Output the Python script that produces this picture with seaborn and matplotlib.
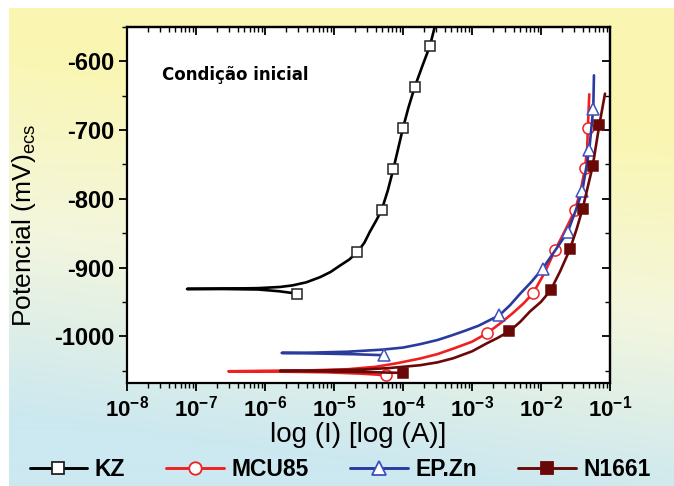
"""
Curvas de polarização – condição inicial
"""

import numpy as np
import matplotlib
matplotlib.use("Agg")
import matplotlib.pyplot as plt
from matplotlib.lines import Line2D
from matplotlib.ticker import LogLocator, MultipleLocator, NullFormatter
import seaborn as sns

# log10(I / A) and potential (mV vs ECS), traced from cathodic end -> Ecorr -> anodic branch
kz_log_i = [-5.54, -5.8, -6.1, -6.6, -7.13, -6.6, -6.1, -5.78, -5.6, -5.4,
            -5.2, -5.05, -4.91, -4.78, -4.66, -4.56, -4.48, -4.39, -4.31, -4.22,
            -4.14, -4.07, -4.00, -3.92, -3.83, -3.72, -3.61, -3.54]
kz_e = [-937.9, -934.5, -932.0, -931.3, -931.2, -930.8, -930.0, -928.3, -926.0, -921.5,
        -914.0, -906.5, -897.0, -888.5, -877.4, -864.0, -848.0, -832.0, -816.7, -788.0,
        -757.0, -727.0, -697.0, -667.0, -637.4, -607.0, -577.7, -550.0]
kz_marks = [0, 14, 18, 20, 22, 24, 26]

mcu_log_i = [-4.25, -4.6, -5.1, -5.8, -6.53, -6.0, -5.4, -4.8, -4.4, -4.1,
             -3.75, -3.5, -3.27, -3.0, -2.787, -2.6, -2.41, -2.25, -2.112, -1.95,
             -1.797, -1.65, -1.507, -1.42, -1.36, -1.33, -1.32, -1.30]
mcu_e = [-1056.7, -1054.5, -1052.5, -1051.5, -1051.0, -1050.3, -1049.8, -1048.0, -1044.5, -1039.5,
         -1032.4, -1026.0, -1018.0, -1008.0, -996.0, -982.0, -966.5, -952.0, -937.0, -908.0,
         -875.0, -846.0, -816.7, -786.0, -754.6, -725.0, -696.4, -648.0]
mcu_marks = [0, 14, 18, 20, 22, 24, 26]

epzn_log_i = [-4.275, -4.7, -5.2, -5.758, -5.3, -4.8, -4.3, -4.0, -3.754, -3.5,
              -3.3, -3.1, -2.9, -2.604, -2.45, -2.3, -2.14, -1.975, -1.8, -1.613,
              -1.5, -1.401, -1.30, -1.242, -1.232]
epzn_e = [-1027.6, -1026.2, -1025.2, -1024.3, -1023.8, -1022.5, -1019.5, -1016.5, -1011.6, -1005.5,
          -999.0, -992.0, -984.5, -969.5, -955.0, -938.0, -921.0, -901.5, -876.0, -848.3,
          -818.0, -788.7, -728.4, -668.8, -620.4]
epzn_marks = [0, 13, 17, 19, 21, 22, 23]

n1661_log_i = [-4.004, -4.5, -5.1, -5.783, -5.2, -4.6, -4.2, -3.754, -3.5, -3.27,
               -3.0, -2.79, -2.62, -2.457, -2.3, -2.16, -2.0, -1.859, -1.72, -1.58,
               -1.48, -1.396, -1.251, -1.155, -1.072]
n1661_e = [-1053.4, -1052.2, -1051.2, -1050.5, -1049.8, -1048.5, -1046.3, -1042.2, -1038.0, -1032.0,
           -1022.0, -1010.6, -1002.0, -992.7, -979.0, -964.0, -950.0, -933.0, -905.0, -873.5,
           -843.0, -814.3, -752.7, -693.0, -647.0]
n1661_marks = [0, 13, 17, 19, 21, 22, 23]

labels = ["KZ", "MCU85", "EP.Zn", "N1661"]
x_ticks = [1e-8, 1e-7, 1e-6, 1e-5, 1e-4, 1e-3, 1e-2, 1e-1]
x_tick_labels = [r"$\mathbf{10^{-8}}$", r"$\mathbf{10^{-7}}$", r"$\mathbf{10^{-6}}$",
                 r"$\mathbf{10^{-5}}$", r"$\mathbf{10^{-4}}$", r"$\mathbf{10^{-3}}$",
                 r"$\mathbf{10^{-2}}$", r"$\mathbf{10^{-1}}$"]
y_ticks = [-1000, -900, -800, -700, -600]

STYLES = {
    "KZ": dict(color="black", marker="s", mfc="white", mec="#222222", ms=7),
    "MCU85": dict(color="#f02020", marker="o", mfc="white", mec="#f02020", ms=8),
    "EP.Zn": dict(color="#2a3a9e", marker="^", mfc="white", mec="#3a50c0", ms=9),
    "N1661": dict(color="#6a0808", marker="s", mfc="#6a0808", mec="#6a0808", ms=7),
}

sns.set_style("ticks")
plt.rcParams["font.family"] = ["Liberation Sans", "DejaVu Sans"]
plt.rcParams["mathtext.fontset"] = "custom"
plt.rcParams["mathtext.rm"] = "Liberation Sans"
plt.rcParams["mathtext.it"] = "Liberation Sans:italic"
plt.rcParams["mathtext.bf"] = "Liberation Sans:bold"
plt.rcParams["axes.unicode_minus"] = False
plt.rcParams["text.color"] = "black"
plt.rcParams["axes.labelcolor"] = "black"
plt.rcParams["xtick.color"] = "black"
plt.rcParams["ytick.color"] = "black"

fig = plt.figure(figsize=(6.74, 4.86), dpi=100)

# background: yellow (top right) fading to light blue (bottom left)
bg = fig.add_axes([0, 0, 1, 1], zorder=-5)
h, w = 486, 674
yy, xx = np.mgrid[0:h, 0:w]
s = yy / h - 0.19 * xx / w
yellow = np.array([250, 246, 178]) / 255
pale = np.array([243, 246, 222]) / 255
blue = np.array([204, 232, 240]) / 255
t1 = np.clip((s - 0.10) / 0.37, 0, 1)[..., None]
t2 = np.clip((s - 0.47) / 0.38, 0, 1)[..., None]
img = np.where(s[..., None] < 0.47, yellow + (pale - yellow) * t1, pale + (blue - pale) * t2)
img[:9, :] = 1.0
img[:, :9] = 1.0
bg.imshow(img, aspect="auto", extent=[0, 1, 0, 1], interpolation="bilinear")
bg.set_axis_off()

ax = fig.add_axes([0.1884, 0.212, 0.7166, 0.7325])
ax.set_facecolor("white")
ax.set_xscale("log")

data = {
    "KZ": (kz_log_i, kz_e, kz_marks),
    "MCU85": (mcu_log_i, mcu_e, mcu_marks),
    "EP.Zn": (epzn_log_i, epzn_e, epzn_marks),
    "N1661": (n1661_log_i, n1661_e, n1661_marks),
}

handles = []
for name in labels:
    log_i, e, marks = data[name]
    st = STYLES[name]
    cur = 10 ** np.array(log_i)
    sns.lineplot(x=cur, y=e, sort=False, estimator=None, color=st["color"],
                 lw=1.9, ax=ax, legend=False)
    ax.plot(cur[marks], np.array(e)[marks], ls="none", marker=st["marker"],
            ms=st["ms"], mfc=st["mfc"], mec=st["mec"], mew=1.1)
    handles.append(Line2D([], [], color=st["color"], lw=2.1, marker=st["marker"],
                          ms=st["ms"] + 1, mfc=st["mfc"], mec=st["mec"], mew=1.3))

ax.set_xlim(1e-8, 1e-1)
ax.set_ylim(-1068, -550)
ax.set_xticks(x_ticks)
ax.set_xticklabels(x_tick_labels)
ax.xaxis.set_minor_locator(LogLocator(base=10, subs=np.arange(2, 10), numticks=20))
ax.xaxis.set_minor_formatter(NullFormatter())
ax.set_yticks(y_ticks)
ax.yaxis.set_minor_locator(MultipleLocator(50))

for sp in ax.spines.values():
    sp.set_visible(True)
    sp.set_linewidth(1.6)
    sp.set_color("black")

ax.tick_params(which="major", direction="out", length=6, width=1.3, labelsize=16, pad=3)
ax.tick_params(which="minor", direction="out", length=3.5, width=1.0)
ax.tick_params(axis="y", which="major", labelsize=17)
for lab in ax.get_yticklabels():
    lab.set_fontweight("bold")

top = ax.secondary_xaxis("top")
top.set_xticks(x_ticks)
top.xaxis.set_minor_locator(LogLocator(base=10, subs=np.arange(2, 10), numticks=20))
top.tick_params(which="major", direction="in", length=6, width=1.3, labeltop=False)
top.tick_params(which="minor", direction="in", length=3.5, width=1.0, labeltop=False)
top.spines["top"].set_linewidth(1.6)

right = ax.secondary_yaxis("right")
right.set_yticks(y_ticks)
right.yaxis.set_minor_locator(MultipleLocator(50))
right.tick_params(which="major", direction="in", length=6, width=1.3, labelright=False)
right.tick_params(which="minor", direction="in", length=3.5, width=1.0, labelright=False)
right.spines["right"].set_linewidth(1.6)

ax.set_xlabel("log (I) [log (A)]", fontsize=20)
ax.set_ylabel(r"Potencial (mV)$_{\mathrm{ecs}}$", fontsize=19)
ax.xaxis.set_label_coords(0.478, -0.11)
ax.yaxis.set_label_coords(-0.185, 0.444)

ax.text(0.072, 0.865, "Condição inicial", transform=ax.transAxes, fontsize=12,
        fontweight="bold", family=["DejaVu Sans"], va="center", ha="left")

fig.legend(handles, labels, loc="center", bbox_to_anchor=(0.505, 0.033), ncol=4,
           frameon=False, prop=dict(weight="bold", size=16.5), handlelength=2.5,
           handletextpad=0.35, columnspacing=1.8)

fig.savefig("out.png", dpi=100)
